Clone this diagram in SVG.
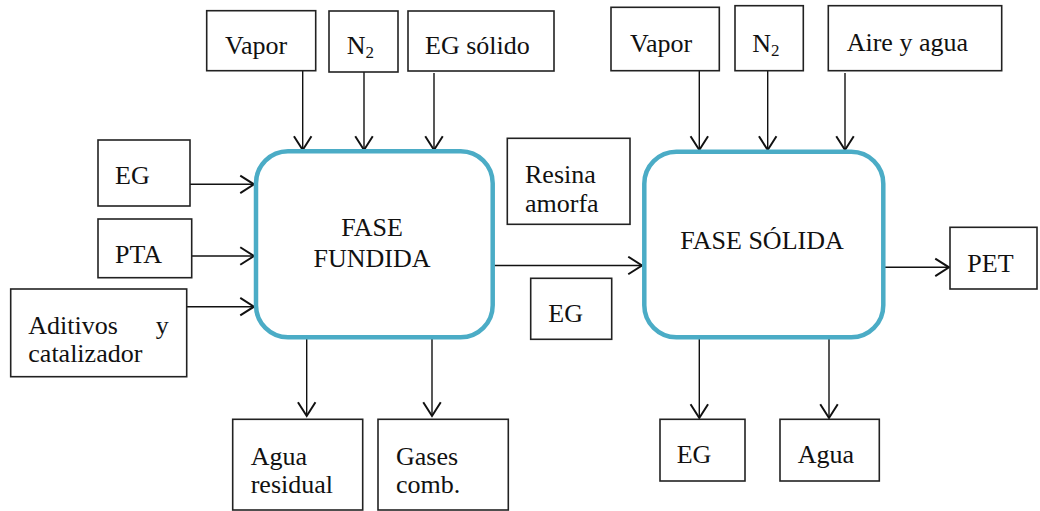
<svg xmlns="http://www.w3.org/2000/svg" width="1040" height="511" viewBox="0 0 1040 511" font-family="Liberation Serif, DejaVu Serif, serif">
  <style>
    .box { fill: #fff; stroke: #222; stroke-width: 1.6; }
    .phase { fill: #fff; stroke: #4bacc6; stroke-width: 4.5; }
    .lbl { font-size: 26px; fill: #111; }
    .sub { font-size: 17px; }
    .ctr { text-anchor: middle; }
    .flow { stroke: #111; stroke-width: 1.4; fill: none; marker-end: url(#arrow); }
  </style>
  <defs>
    <marker id="arrow" markerUnits="userSpaceOnUse" markerWidth="20" markerHeight="20" viewBox="-12 -8 14 16" refX="0" refY="0" orient="auto">
      <path d="M-11,-7 L0,0 L-11,7" fill="none" stroke="#111" stroke-width="1.6"/>
    </marker>
  </defs>

  <rect width="1040" height="511" fill="#fff"/>

  <!-- flows -->
  <g id="connectors">
    <!-- feeds to melt phase -->
    <line class="flow" x1="302.7" y1="71" x2="302.7" y2="150"/>
    <line class="flow" x1="364" y1="72" x2="364" y2="150"/>
    <line class="flow" x1="434" y1="73" x2="434" y2="150"/>
    <line class="flow" x1="190" y1="184.3" x2="254" y2="184.3"/>
    <line class="flow" x1="192" y1="256" x2="254" y2="256"/>
    <line class="flow" x1="187" y1="306.7" x2="254" y2="306.7"/>
    <!-- melt phase outputs -->
    <line class="flow" x1="306.7" y1="339" x2="306.7" y2="416"/>
    <line class="flow" x1="432" y1="339" x2="432" y2="416"/>
    <!-- melt to solid phase -->
    <line class="flow" x1="493" y1="265.5" x2="642" y2="265.5"/>
    <!-- feeds to solid phase -->
    <line class="flow" x1="699.3" y1="71" x2="699.3" y2="150"/>
    <line class="flow" x1="767.7" y1="71" x2="767.7" y2="150"/>
    <line class="flow" x1="845" y1="73" x2="845" y2="150"/>
    <!-- solid phase outputs -->
    <line class="flow" x1="699.3" y1="339" x2="699.3" y2="418"/>
    <line class="flow" x1="829" y1="339" x2="829" y2="418"/>
    <line class="flow" x1="885" y1="267.3" x2="949" y2="267.3"/>
  </g>

  <!-- melt phase inputs -->
  <g id="vapor1"><rect class="box" x="206.7" y="10.7" width="109" height="60"/><text class="lbl" x="225" y="54.3">Vapor</text></g>
  <g id="n2-1"><rect class="box" x="329" y="11" width="69" height="61"/><text class="lbl" x="346.7" y="54.3">N<tspan class="sub" dy="4">2</tspan></text></g>
  <g id="eg-solido"><rect class="box" x="408" y="11" width="146" height="60"/><text class="lbl" x="425" y="54">EG sólido</text></g>
  <g id="eg-in"><rect class="box" x="98" y="140" width="92" height="66"/><text class="lbl" x="115" y="184">EG</text></g>
  <g id="pta"><rect class="box" x="98" y="219" width="93.7" height="58.7"/><text class="lbl" x="115" y="262.7">PTA</text></g>
  <g id="aditivos"><rect class="box" x="10.7" y="289" width="176" height="87.7"/><text class="lbl" y="334"><tspan x="28.3">Aditivos</tspan><tspan x="155.7">y</tspan><tspan x="28.3" y="361.7">catalizador</tspan></text></g>

  <!-- melt phase -->
  <g id="fase-fundida">
    <rect class="phase" x="256" y="151.3" width="236.7" height="186" rx="32" ry="32"/>
    <text class="lbl ctr" x="372" y="236">FASE</text>
    <text class="lbl ctr" x="372" y="266.7">FUNDIDA</text>
  </g>

  <!-- melt phase outputs -->
  <g id="agua-residual"><rect class="box" x="232.7" y="419.3" width="130" height="90.7"/><text class="lbl" x="250.7" y="465">Agua</text><text class="lbl" x="250.7" y="493.3">residual</text></g>
  <g id="gases"><rect class="box" x="378" y="419.3" width="130.3" height="90.7"/><text class="lbl" x="396" y="465">Gases</text><text class="lbl" x="396" y="493.3">comb.</text></g>

  <!-- intermediate stream labels -->
  <g id="resina"><rect class="box" x="507.3" y="138.3" width="122.7" height="86"/><text class="lbl" x="525" y="183.3">Resina</text><text class="lbl" x="525" y="211.7">amorfa</text></g>
  <g id="eg-mid"><rect class="box" x="530.7" y="278.3" width="81" height="61"/><text class="lbl" x="548.3" y="321.7">EG</text></g>

  <!-- solid phase inputs -->
  <g id="vapor2"><rect class="box" x="611" y="7.3" width="108.3" height="63.4"/><text class="lbl" x="630" y="51.7">Vapor</text></g>
  <g id="n2-2"><rect class="box" x="735" y="5.7" width="68.3" height="65"/><text class="lbl" x="752.3" y="51.7">N<tspan class="sub" dy="4">2</tspan></text></g>
  <g id="aire-agua"><rect class="box" x="828.3" y="5.7" width="173.4" height="65"/><text class="lbl" x="846.7" y="51">Aire y agua</text></g>

  <!-- solid phase -->
  <g id="fase-solida">
    <rect class="phase" x="644.3" y="151.7" width="239" height="185.6" rx="32" ry="32"/>
    <text class="lbl ctr" x="762" y="249.3">FASE SÓLIDA</text>
  </g>

  <!-- solid phase outputs -->
  <g id="eg-out"><rect class="box" x="660" y="419.3" width="85" height="61.7"/><text class="lbl" x="676.7" y="463.3">EG</text></g>
  <g id="agua"><rect class="box" x="780" y="419.3" width="99.3" height="61.7"/><text class="lbl" x="797.7" y="463.3">Agua</text></g>
  <g id="pet"><rect class="box" x="950" y="227.3" width="87" height="61.7"/><text class="lbl" x="967.3" y="271.7">PET</text></g>
</svg>
